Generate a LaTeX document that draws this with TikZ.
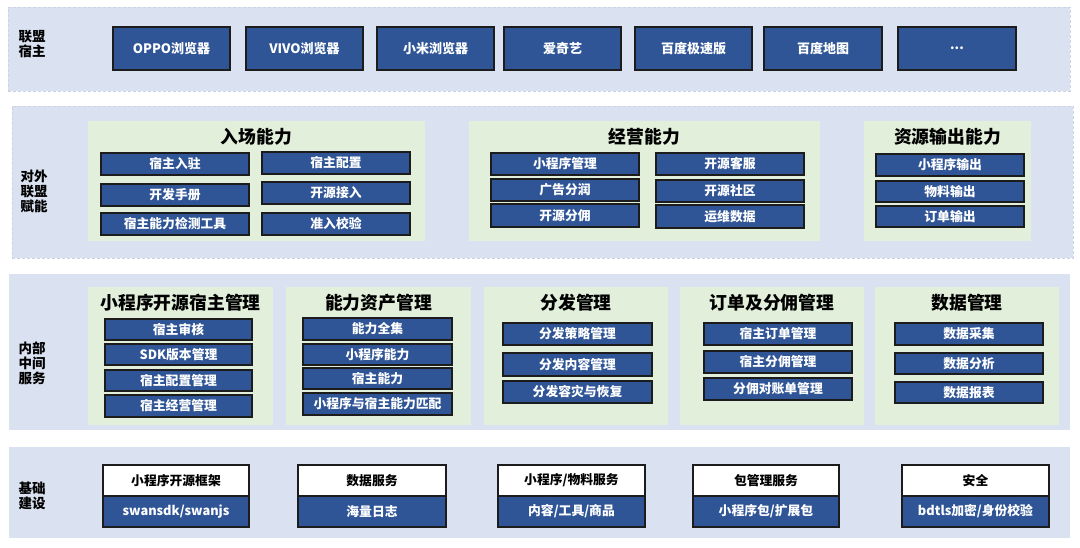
\documentclass[tikz,border=0pt]{standalone}
\usepackage{fontspec}
\setmainfont{Noto Sans CJK SC}
\definecolor{bandc}{HTML}{DAE2F1}
\definecolor{bandedge}{HTML}{CCD4E6}
\definecolor{grpc}{HTML}{E2EFDA}
\definecolor{boxc}{HTML}{2F5597}
\definecolor{edgec}{HTML}{1C1C1C}
\newcommand\blk[7]{\node[#1, inner sep=0pt, outer sep=0pt, minimum width={(#5-#3)*1pt}, minimum height={(#6-#4)*1pt}] (#2) at ({(#3+#5)/2},{(#4+#6)/2}) {#7};}
\begin{document}
\begin{tikzpicture}[x=1pt,y=-1pt,
  band/.style={fill=bandc, draw=none},
  dband/.style={fill=bandc, draw=bandedge, dash pattern=on 3pt off 2pt, line width=0.8pt},
  grp/.style={fill=grpc, draw=none},
  bbox/.style={fill=boxc, draw=edgec, line width=1.4pt, text=white, font=\bfseries\fontsize{12.8}{14}\selectfont},
  hbox/.style={bbox, font=\bfseries\fontsize{13}{15}\selectfont},
  wbox/.style={fill=white, draw=edgec, line width=1.4pt, text=black, font=\bfseries\fontsize{12.8}{14}\selectfont},
  ttl/.style={font=\bfseries\fontsize{17.8}{20}\selectfont, inner sep=0pt},
  lbl/.style={font=\bfseries\fontsize{13.5}{15}\selectfont, align=center, inner sep=0pt}
]
\useasboundingbox (0,0) rectangle (1080,547);
\fill[white] (0,0) rectangle (1080,547);

% ---------- bands ----------
\blk{dband}{band1}{8}{7}{1070}{91}{}
\blk{dband}{band2}{12}{106}{1073}{258}{}
\blk{band}{band3}{9}{274}{1070}{430}{}
\blk{band}{band4}{9}{447}{1070}{538}{}

\node[lbl] (l1) at (32,44) {联盟\\宿主};
\node[lbl] (l2) at (34,191) {对外\\联盟\\赋能};
\node[lbl] (l3) at (32,363) {内部\\中间\\服务};
\node[lbl] (l4) at (32,496) {基础\\建设};

% ---------- band 1: hosts ----------
\blk{hbox}{h1}{113}{27}{230}{70}{OPPO浏览器}
\blk{hbox}{h2}{246}{27}{363}{70}{VIVO浏览器}
\blk{hbox}{h3}{377}{27}{494}{70}{小米浏览器}
\blk{hbox}{h4}{504}{27}{621}{70}{爱奇艺}
\blk{hbox}{h5}{635}{27}{752}{70}{百度极速版}
\blk{hbox}{h6}{764}{27}{882}{70}{百度地图}
\blk{hbox}{h7}{898}{27}{1016}{70}{...}

% ---------- band 2 ----------
\blk{grp}{gA}{88}{121}{425}{241}{}
\blk{grp}{gB}{469}{121}{820}{241}{}
\blk{grp}{gC}{864}{121}{1031}{241}{}
\node[ttl] (tA) at (256.5,137) {入场能力};
\node[ttl] (tB) at (644.5,137) {经营能力};
\node[ttl] (tC) at (947.5,137) {资源输出能力};

\blk{bbox}{a1}{101}{153}{249}{175}{宿主入驻}
\blk{bbox}{a2}{101}{184}{249}{206}{开发手册}
\blk{bbox}{a3}{101}{213}{249}{235}{宿主能力检测工具}
\blk{bbox}{a4}{262}{152}{410}{174}{宿主配置}
\blk{bbox}{a5}{262}{182}{410}{204}{开源接入}
\blk{bbox}{a6}{262}{213}{410}{235}{准入校验}

\blk{bbox}{b1}{491}{153}{639}{175}{小程序管理}
\blk{bbox}{b2}{491}{179}{639}{201}{广告分润}
\blk{bbox}{b3}{491}{204}{639}{227}{开源分佣}
\blk{bbox}{b4}{656}{153}{804}{175}{开源客服}
\blk{bbox}{b5}{656}{180}{804}{202}{开源社区}
\blk{bbox}{b6}{656}{205}{804}{228}{运维数据}

\blk{bbox}{c1}{876}{154}{1024}{176}{小程序输出}
\blk{bbox}{c2}{876}{181}{1024}{202}{物料输出}
\blk{bbox}{c3}{876}{206}{1024}{227}{订单输出}

% ---------- band 3 ----------
\blk{grp}{g1}{88}{287}{273}{425}{}
\blk{grp}{g2}{286}{287}{471}{425}{}
\blk{grp}{g3}{484}{287}{668}{425}{}
\blk{grp}{g4}{680}{287}{864}{425}{}
\blk{grp}{g5}{875}{287}{1059}{425}{}
\node[ttl] (t1) at (180.5,303) {小程序开源宿主管理};
\node[ttl] (t2) at (378.5,303) {能力资产管理};
\node[ttl] (t3) at (576,303) {分发管理};
\node[ttl] (t4) at (772,303) {订单及分佣管理};
\node[ttl] (t5) at (967,303) {数据管理};

\blk{bbox}{m11}{105}{319}{252}{340}{宿主审核}
\blk{bbox}{m12}{105}{344}{252}{365}{SDK版本管理}
\blk{bbox}{m13}{105}{370}{252}{391}{宿主配置管理}
\blk{bbox}{m14}{105}{395}{252}{417}{宿主经营管理}

\blk{bbox}{m21}{303}{318}{452}{340}{能力全集}
\blk{bbox}{m22}{303}{344}{452}{365}{小程序能力}
\blk{bbox}{m23}{303}{368}{452}{389}{宿主能力}
\blk{bbox}{m24}{303}{393}{452}{415}{小程序与宿主能力匹配}

\blk{bbox}{m31}{503}{323}{652}{345}{分发策略管理}
\blk{bbox}{m32}{503}{353}{652}{376}{分发内容管理}
\blk{bbox}{m33}{503}{381}{652}{403}{分发容灾与恢复}

\blk{bbox}{m41}{704}{323}{852}{345}{宿主订单管理}
\blk{bbox}{m42}{704}{351}{852}{373}{宿主分佣管理}
\blk{bbox}{m43}{704}{378}{852}{400}{分佣对账单管理}

\blk{bbox}{m51}{895}{323}{1043}{345}{数据采集}
\blk{bbox}{m52}{895}{353}{1043}{374}{数据分析}
\blk{bbox}{m53}{895}{382}{1043}{403}{数据报表}

% ---------- band 4 ----------
\blk{wbox}{f1h}{103}{465}{249}{496}{小程序开源框架}
\blk{bbox}{f1b}{103}{496}{249}{527}{swansdk/swanjs}
\blk{wbox}{f2h}{298}{465}{446}{496}{数据服务}
\blk{bbox}{f2b}{298}{496}{446}{527}{海量日志}
\blk{wbox}{f3h}{498}{465}{645}{496}{小程序/物料服务}
\blk{bbox}{f3b}{498}{496}{645}{527}{内容/工具/商品}
\blk{wbox}{f4h}{693}{465}{839}{496}{包管理服务}
\blk{bbox}{f4b}{693}{496}{839}{527}{小程序包/扩展包}
\blk{wbox}{f5h}{902}{465}{1049}{496}{安全}
\blk{bbox}{f5b}{902}{496}{1049}{527}{bdtls加密/身份校验}
\end{tikzpicture}
\end{document}
